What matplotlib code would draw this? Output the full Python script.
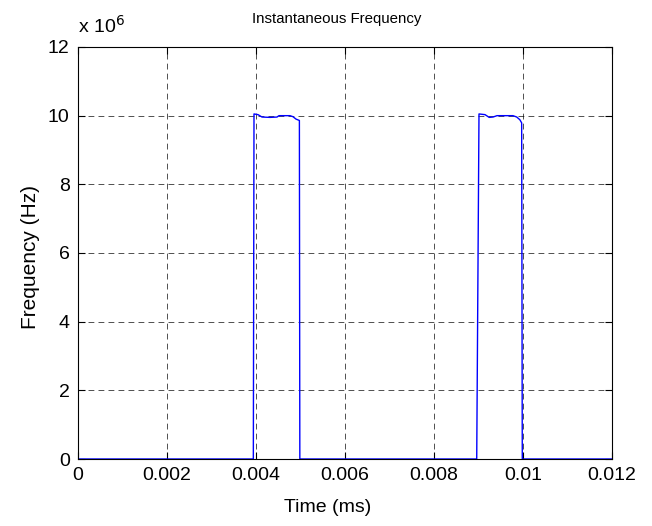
import matplotlib
matplotlib.use("Agg")
import matplotlib.pyplot as plt
from matplotlib.ticker import FuncFormatter

plt.rcParams['font.family'] = ['Liberation Sans', 'DejaVu Sans']

# Time (s shown as "ms" label) and instantaneous frequency (Hz)
time = [0.0, 0.00394, 0.003955, 0.004045, 0.004135, 0.004315, 0.004472, 0.004517,
        0.004764, 0.004831, 0.004899, 0.004975, 0.004985,
        0.00896, 0.009011, 0.009146, 0.00924, 0.009326, 0.009416, 0.009775,
        0.00986, 0.00993, 0.00997, 0.009984, 0.012]
freq = [0.0, 0.0, 10.05e6, 10.03e6, 9.96e6, 9.95e6, 9.96e6, 10.0e6,
        10.0e6, 9.97e6, 9.9e6, 9.86e6, 0.0,
        0.0, 10.05e6, 10.03e6, 9.95e6, 9.96e6, 10.0e6, 10.0e6,
        9.96e6, 9.88e6, 9.79e6, 0.0, 0.0]

xticks = [0, 0.002, 0.004, 0.006, 0.008, 0.01, 0.012]
xticklabels = ['0', '0.002', '0.004', '0.006', '0.008', '0.01', '0.012']
yticks = [0, 2e6, 4e6, 6e6, 8e6, 10e6, 12e6]

fig = plt.figure(figsize=(6.52, 5.26), dpi=100)
ax = fig.add_axes([78/652, 1 - 459/526, (612 - 78)/652, (459 - 47)/526])

ax.plot(time, freq, color='#0000ff', lw=1.0)

ax.set_xlim(0, 0.012)
ax.set_ylim(0, 12e6)
ax.set_xticks(xticks)
ax.set_xticklabels(xticklabels)
ax.set_yticks(yticks)
ax.yaxis.set_major_formatter(FuncFormatter(lambda v, p: f"{v/1e6:g}"))

ax.tick_params(direction='in', length=5, width=0.8, labelsize=14,
               top=True, right=True, pad=6)
for s in ax.spines.values():
    s.set_linewidth(0.8)

ax.grid(True, color='black', linestyle=(0, (7, 5)), linewidth=0.6, alpha=0.8)

fig.text(337/652, 1 - 19/526, 'Instantaneous Frequency', fontsize=10.8,
         ha='center', va='center')
fig.text(328/652, 1 - 507/526, 'Time (ms)', fontsize=14, ha='center', va='center')
fig.text(30/652, 1 - 257/526, 'Frequency (Hz)', fontsize=15, rotation=90,
         ha='center', va='center')

fig.text(78/652, 1 - 33/526, r'x 10$^{6}$', fontsize=14, ha='left', va='baseline')

fig.savefig('out.png', dpi=100)
